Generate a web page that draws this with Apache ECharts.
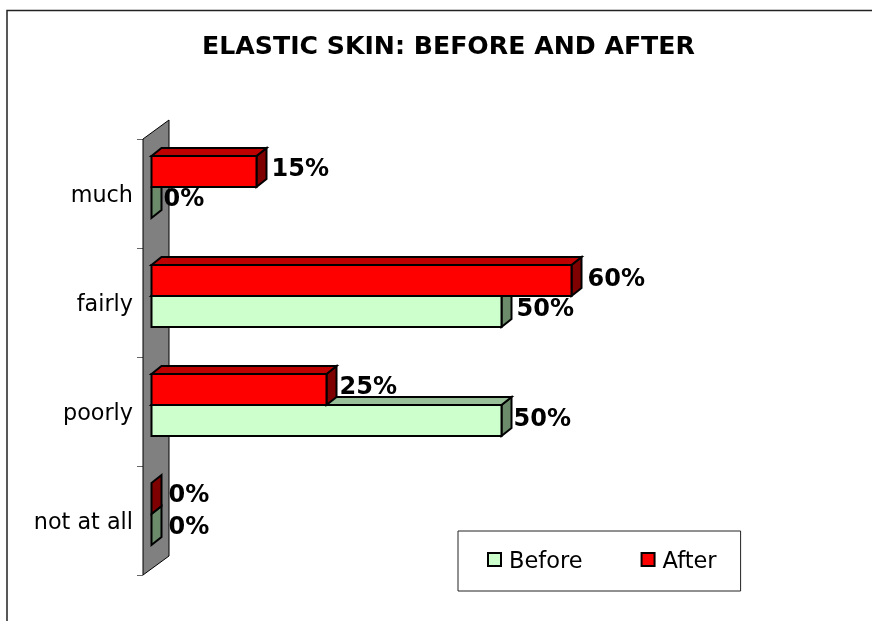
<!DOCTYPE html>
<html><head><meta charset="utf-8">
<style>html,body{margin:0;padding:0;background:#fff}#c{width:872px;height:621px}</style>
<script src="https://cdn.jsdelivr.net/npm/echarts@6/dist/echarts.min.js"></script>
</head><body><div id="c"></div>
<script>
const categories = ['much', 'fairly', 'poorly', 'not at all'];
const beforeValues = [0, 50, 50, 0];
const afterValues = [15, 60, 25, 0];
const seriesNames = ['Before', 'After'];

// label nudges (px) relative to each bar's end
const beforeNudge = [[12, 13], [15, 14], [12, 15], [17, 14]];
const afterNudge = [[15, -17], [16, -16], [13, -17], [17, -18]];

const DX = 10, DY = -8;       // bar depth projection
const AX = 8.5, AY = -6.5;    // front plane offset from the axis plane
const BAR_H = 31;

function barRender(front, top, side, dir, nudge) {
  return function (params, api) {
    const v = api.value(0), i = api.value(1);
    const p = api.coord([v, i]), o = api.coord([0, i]);
    const x0 = o[0] + AX, x1 = p[0] + AX, cy = p[1] + AY;
    const y0 = dir < 0 ? cy - BAR_H : cy, y1 = y0 + BAR_H;
    const ln = { stroke: '#000', lineWidth: 2, lineJoin: 'miter' };
    const children = [];
    children.push({ type: 'polygon', shape: { points: [[x1, y0], [x1 + DX, y0 + DY], [x1 + DX, y1 + DY], [x1, y1]] }, style: { fill: side, ...ln } });
    if (v > 0) {
      children.push({ type: 'polygon', shape: { points: [[x0, y0], [x0 + DX, y0 + DY], [x1 + DX, y0 + DY], [x1, y0]] }, style: { fill: top, ...ln } });
      children.push({ type: 'rect', shape: { x: x0, y: y0, width: x1 - x0, height: BAR_H }, style: { fill: front, ...ln } });
    }
    const n = nudge[params.dataIndex];
    children.push({ type: 'text', z2: 10, style: { x: x1 + n[0], y: cy + n[1], text: v + '%', fill: '#000', font: 'bold 24px "DejaVu Sans"', textAlign: 'left', textVerticalAlign: 'middle' } });
    return { type: 'group', children };
  };
}

function wallRender(params, api) {
  const a = api.coord([0, 0]);
  const s = api.size([0, 1])[1];
  const top = a[1] - s / 2, bot = a[1] + s / 2 + s * 3;
  return { type: 'polygon', shape: { points: [[a[0], top], [a[0] + 26, top - 19], [a[0] + 26, bot - 19], [a[0], bot]] }, style: { fill: '#808080', stroke: '#000', lineWidth: 1 } };
}

const option = {
  animation: false,
  backgroundColor: '#fff',
  title: { text: 'ELASTIC SKIN: BEFORE AND AFTER', left: 443.5, top: 30, textAlign: 'center', textStyle: { fontFamily: '"DejaVu Sans"', fontWeight: 'bold', fontSize: 25.2, color: '#000' } },
  graphic: [{ type: 'polyline', silent: true, shape: { points: [[7, 621], [7, 10.5], [872, 10.5]] }, style: { fill: 'none', stroke: '#222', lineWidth: 1.5 } }],
  grid: { left: 143, top: 139, width: 700, height: 436 },
  xAxis: { type: 'value', min: 0, max: 100, show: false },
  yAxis: { type: 'category', inverse: true, data: categories,
    axisLine: { show: false },
    axisTick: { show: true, length: 6, lineStyle: { color: '#666', width: 1 } },
    axisLabel: { margin: 10, formatter: '{a|{value}}', rich: { a: { fontFamily: '"DejaVu Sans"', fontSize: 22.3, color: '#000', padding: [6, 0, 0, 0] } } } },
  legend: { show: true, data: seriesNames, icon: 'rect', left: 458, top: 531, padding: [20, 24, 17, 29], itemGap: 58, itemWidth: 13, itemHeight: 13,
    borderColor: '#222', borderWidth: 1, formatter: '{a|{name}}',
    textStyle: { rich: { a: { fontFamily: '"DejaVu Sans"', fontSize: 22.5, color: '#000', padding: [6, 0, 0, 3] } } } },
  series: [
    { type: 'custom', silent: true, z: 1, renderItem: wallRender, data: [[0, 0]], encode: { x: 0, y: 1 } },
    { type: 'custom', name: seriesNames[0], z: 2, itemStyle: { color: '#ccffcc', borderColor: '#000', borderWidth: 2 },
      renderItem: barRender('#ccffcc', '#99bf99', '#6b8b6b', 1, beforeNudge), encode: { x: 0, y: 1 },
      data: beforeValues.map((v, i) => [v, i]) },
    { type: 'custom', name: seriesNames[1], z: 3, itemStyle: { color: '#ff0000', borderColor: '#000', borderWidth: 2 },
      renderItem: barRender('#ff0000', '#bf0000', '#7f0000', -1, afterNudge), encode: { x: 0, y: 1 },
      data: afterValues.map((v, i) => [v, i]) }
  ]
};
echarts.init(document.getElementById('c'), null, { renderer: 'canvas' }).setOption(option);
</script></body></html>
